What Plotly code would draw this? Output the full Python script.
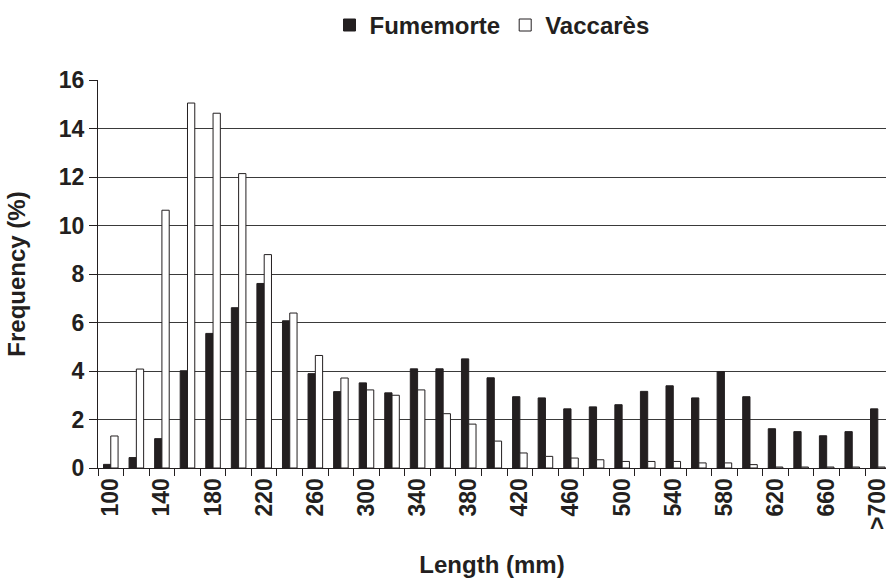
import plotly.graph_objects as go

# Length classes (mm); every other class is labelled on the axis
length_classes = [str(v) for v in range(100, 700, 20)] + [">700"]
axis_labels = [c if i % 2 == 0 else "" for i, c in enumerate(length_classes)]

# Frequency (%) per length class
fumemorte = [0.15, 0.43, 1.21, 4.01, 5.55, 6.61, 7.61, 6.07, 3.89, 3.15,
             3.51, 3.10, 4.09, 4.09, 4.50, 3.72, 2.94, 2.89, 2.44, 2.52,
             2.61, 3.16, 3.39, 2.89, 3.98, 2.94, 1.62, 1.50, 1.33, 1.50,
             2.44]
vaccares = [1.32, 4.08, 10.63, 15.05, 14.63, 12.14, 8.80, 6.39, 4.64, 3.71,
            3.22, 3.00, 3.22, 2.24, 1.81, 1.11, 0.62, 0.48, 0.41, 0.34,
            0.27, 0.27, 0.27, 0.21, 0.21, 0.14, 0.04, 0.04, 0.04, 0.04,
            0.04]

y_ticks = list(range(0, 17, 2))

FONT = dict(family="Liberation Sans, Arial, sans-serif", color="#231f20",
            weight="bold")

fig = go.Figure()
fig.add_trace(go.Bar(
    name="Fumemorte", x=length_classes, y=fumemorte,
    marker=dict(color="#231f20", line=dict(color="#231f20", width=1)),
))
fig.add_trace(go.Bar(
    name="Vaccarès", x=length_classes, y=vaccares,
    marker=dict(color="white", line=dict(color="#231f20", width=1)),
))

fig.update_layout(
    width=890, height=581,
    margin=dict(l=98, r=0, t=80, b=113),
    paper_bgcolor="white", plot_bgcolor="white",
    barmode="group", bargap=0.43, bargroupgap=0,
    font=dict(size=22, **FONT),
    showlegend=True,
    legend=dict(
        orientation="h", x=0.5, xanchor="center", y=0.995, yanchor="top",
        yref="container", font=dict(size=24, **FONT),
        itemwidth=30, traceorder="normal",
    ),
    xaxis=dict(
        type="category",
        range=[-0.5, 30.32],
        tickmode="array", tickvals=length_classes, ticktext=axis_labels,
        tickson="boundaries", ticks="outside", ticklen=7,
        tickcolor="#231f20", tickwidth=1,
        tickangle=-90,
        tickfont=dict(size=23, **FONT),
        showline=True, linecolor="#231f20", linewidth=1,
        showgrid=False,
        title=dict(text="Length (mm)", font=dict(size=24, **FONT),
                   standoff=27),
    ),
    yaxis=dict(
        range=[0, 16],
        tickmode="array", tickvals=y_ticks,
        ticks="outside", ticklen=8, tickcolor="#231f20", tickwidth=1,
        tickfont=dict(size=23, **FONT),
        showline=True, linecolor="#231f20", linewidth=1,
        showgrid=True, gridcolor="#3a3a3a", gridwidth=1,
        zeroline=False,
        title=dict(text="Frequency (%)", font=dict(size=24, **FONT),
                   standoff=26),
    ),
)

fig.write_html("out.html")
